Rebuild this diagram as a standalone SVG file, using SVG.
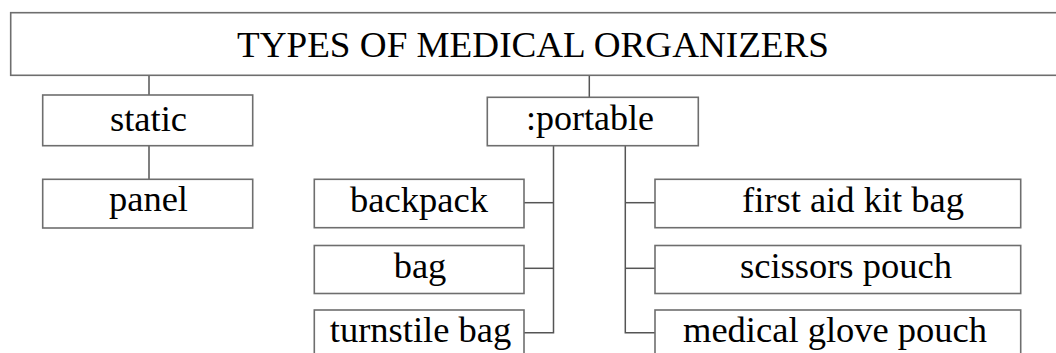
<svg xmlns="http://www.w3.org/2000/svg" width="1056" height="353" viewBox="0 0 1056 353">
<style>
.box{fill:#fff;stroke:#6e6e6e;stroke-width:1.6}
text{font-family:"Liberation Serif","DejaVu Serif",serif;font-size:36.5px;fill:#000}
.c{text-anchor:middle}
.ln{stroke:#555;stroke-width:1.5;fill:none}
</style>
<rect width="1056" height="353" fill="#fff"/>
<g id="connectors">
<line class="ln" x1="149" y1="75.5" x2="149" y2="95"/>
<line class="ln" x1="589.3" y1="75.5" x2="589.3" y2="97.3"/>
<line class="ln" x1="149" y1="145.7" x2="149" y2="179.3"/>
<polyline class="ln" points="553.5,145.7 553.5,332.7 524,332.7"/>
<line class="ln" x1="524" y1="202.7" x2="553.5" y2="202.7"/>
<line class="ln" x1="524" y1="268.3" x2="553.5" y2="268.3"/>
<polyline class="ln" points="625.3,145.7 625.3,332.7 655,332.7"/>
<line class="ln" x1="625.3" y1="202.7" x2="655" y2="202.7"/>
<line class="ln" x1="625.3" y1="268.3" x2="655" y2="268.3"/>
</g>
<g id="root">
<rect class="box" x="10.7" y="12.7" width="1060" height="62.6"/>
<text class="c" x="533" y="57" textLength="592" lengthAdjust="spacingAndGlyphs">TYPES OF MEDICAL ORGANIZERS</text>
</g>
<g id="static">
<rect class="box" x="42.7" y="95" width="210" height="50.7"/>
<text class="c" x="148.5" y="131">static</text>
</g>
<g id="panel">
<rect class="box" x="42.7" y="179.3" width="210" height="48.7"/>
<text class="c" x="148.5" y="211">panel</text>
</g>
<g id="portable">
<rect class="box" x="487.3" y="97.3" width="211" height="48.4"/>
<text x="526" y="130" textLength="128" lengthAdjust="spacingAndGlyphs">:portable</text>
</g>
<g id="backpack">
<rect class="box" x="314.3" y="179.3" width="209.7" height="48.4"/>
<text class="c" x="419" y="212">backpack</text>
</g>
<g id="bag">
<rect class="box" x="314.3" y="245.5" width="209.7" height="48"/>
<text class="c" x="420" y="278">bag</text>
</g>
<g id="turnstile-bag">
<rect class="box" x="314.3" y="310" width="209.7" height="60"/>
<text class="c" x="420.5" y="342">turnstile bag</text>
</g>
<g id="first-aid-kit-bag">
<rect class="box" x="655" y="179.3" width="365.7" height="48.4"/>
<text x="742" y="212">first aid kit bag</text>
</g>
<g id="scissors-pouch">
<rect class="box" x="655" y="245.5" width="365.7" height="48"/>
<text x="740" y="278">scissors pouch</text>
</g>
<g id="medical-glove-pouch">
<rect class="box" x="655" y="310" width="365.7" height="60"/>
<text x="683" y="342">medical glove pouch</text>
</g>
</svg>
